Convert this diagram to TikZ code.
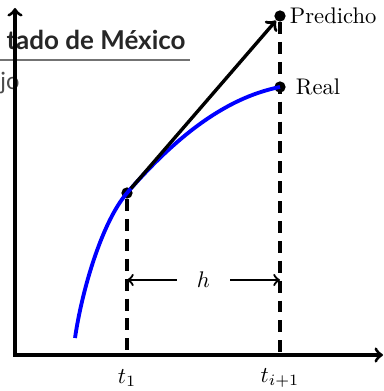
\documentclass[tikz,border=0pt]{standalone}
\usepackage{fontspec}
\newfontfamily\webfont{Lato}
\begin{document}
\begin{tikzpicture}[x=0.4425pt, y=-0.4425pt, >=to,
    % ejes y guias
    axis/.style={<->, line width=1.4pt},
    guide/.style={line width=1.5pt, dash pattern=on 5.3pt off 3.5pt},
    % puntos de la curva
    dot/.style={circle, fill, inner sep=0pt, minimum size=5pt},
    text_node/.style={inner sep=2pt}
]
    \useasboundingbox (0,0) rectangle (383,391);

    % ================== fondo (pagina web) ==================
    \begin{scope}
        \clip (0,0) rectangle (383,391);
        \node[font=\webfont\bfseries\fontsize{11.5}{13}\selectfont, text=black!85,
            anchor=base east, inner sep=0pt] (web_title) at (186,50) {tado de México};
        \draw[black!55, line width=1.2pt] (0,60) -- (190,60);
        \node[font=\webfont\fontsize{10.5}{12}\selectfont, text=black!70,
            anchor=base east, inner sep=0pt] (web_text) at (20,90) {jo};
    \end{scope}

    % ================== ejes ==================
    \coordinate (origin) at (15,355);
    \coordinate (y_end) at (15,8);
    \coordinate (x_end) at (383,355);
    \draw[axis] (y_end) -- (origin) -- (x_end);

    % ================== puntos ==================
    \node[dot] (p_start) at (127,193) {};
    \node[dot] (p_real) at (280,87) {};
    \node[dot] (p_pred) at (280,16) {};
    \coordinate (curve_start) at (75,338);
    \coordinate (t1_foot) at (127,355);
    \coordinate (t2_foot) at (280,355);

    % guias verticales
    \draw[guide] (p_start) -- (t1_foot);
    \draw[guide] (p_pred) -- (t2_foot);

    % curva real
    \draw[blue, line width=1.7pt] (curve_start)
        .. controls (82,290) and (102,222) .. (p_start.center)
        .. controls (190,120) and (240,95) .. (p_real.center);

    % tangente (prediccion)
    \draw[->, line width=1.5pt] (p_start) -- (p_pred);

    % paso h
    \coordinate (h_left) at (127,280);
    \coordinate (h_right) at (280,280);
    \draw[<->, line width=1pt] (h_left) -- node[fill=white, inner xsep=9pt] (h_label) {$h$} (h_right);

    % ================== etiquetas ==================
    \node[text_node, anchor=west] (pred_label) at (285,16) {Predicho};
    \node[text_node, anchor=west] (real_label) at (291,87) {Real};
    \node[text_node] (t1_label) at (127,378) {$t_1$};
    \node[text_node] (t2_label) at (280,378) {$t_{i+1}$};

\end{tikzpicture}
\end{document}
